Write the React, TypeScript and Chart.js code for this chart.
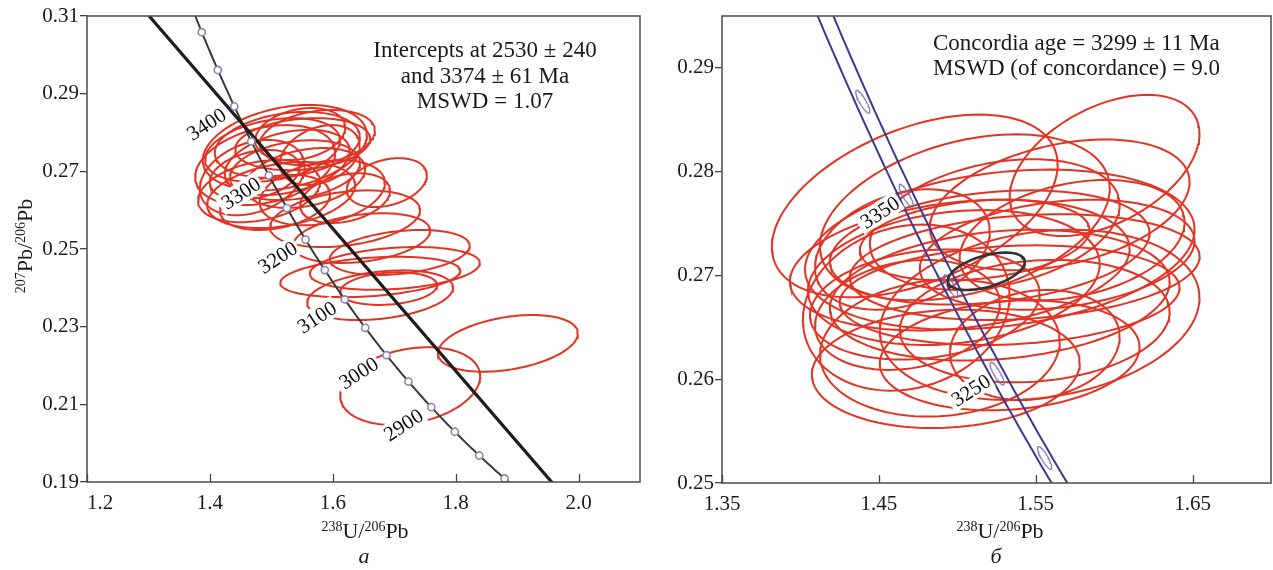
import React, { useEffect, useRef } from 'react';
import { Chart, registerables } from 'chart.js';

Chart.register(...registerables);

const FONT = '"Liberation Serif", "Times New Roman", serif';

// U–Pb decay constants (per year) and present-day 238U/235U
const LAMBDA_238 = 1.55125e-10;
const LAMBDA_235 = 9.8485e-10;
const U238_U235 = 137.88;

// ---------------- panel а ----------------
const aXTicks = [1.2, 1.4, 1.6, 1.8, 2.0];
const aYTicks = [0.19, 0.21, 0.23, 0.25, 0.27, 0.29, 0.31];
const aCurveAgeRange = [2700, 3600];
const aDotAges = [2750, 2800, 2850, 2900, 2950, 3000, 3050, 3100, 3150, 3200, 3250, 3300, 3350, 3400, 3450, 3500];
const aLabelAges = [2900, 3000, 3100, 3200, 3300, 3400];
const aInterceptAges = [2530, 3374];
const aEllipseX = [1.522, 1.490, 1.526, 1.526, 1.469, 1.551, 1.555, 1.473, 1.547, 1.516, 1.583, 1.688, 1.620, 1.620, 1.647, 1.709, 1.701, 1.661, 1.677, 1.691, 1.885, 1.726, 1.506, 1.579, 1.502, 1.5385, 1.480, 1.575];
const aEllipseY = [0.2761, 0.2716, 0.2768, 0.2723, 0.2684, 0.2770, 0.2683, 0.2691, 0.2796, 0.2639, 0.2645, 0.2671, 0.2631, 0.2578, 0.2528, 0.2491, 0.2450, 0.2428, 0.2381, 0.2398, 0.2257, 0.2147, 0.2620, 0.2742, 0.2755, 0.2703, 0.2649, 0.2787];
const aEllipseSX = [0.1335, 0.1139, 0.118, 0.1017, 0.0854, 0.1099, 0.0977, 0.0732, 0.0732, 0.1204, 0.1017, 0.0651, 0.0732, 0.1221, 0.1115, 0.1139, 0.1383, 0.1465, 0.1188, 0.0789, 0.1139, 0.1139, 0.0895, 0.0651, 0.1099, 0.1058, 0.0993, 0.0936];
const aEllipseSY = [0.0110, 0.0103, 0.0085, 0.0084, 0.0097, 0.0067, 0.0077, 0.0064, 0.0067, 0.0085, 0.0084, 0.0063, 0.0064, 0.0073, 0.0064, 0.0058, 0.0055, 0.0052, 0.0064, 0.0042, 0.0073, 0.0100, 0.0071, 0.0077, 0.0082, 0.0077, 0.0080, 0.0071];
const aEllipseRho = [0.3, 0.3, 0.25, 0.35, 0.3, 0.2, 0.3, 0.3, 0.25, 0.3, 0.3, 0.3, 0.3, 0.3, 0.3, 0.3, 0.25, 0.3, 0.3, 0.2, 0.35, 0.25, 0.3, 0.3, 0.3, 0.25, 0.3, 0.25];
const aAnnotation = ['Intercepts at 2530 ± 240', 'and 3374 ± 61 Ma', 'MSWD = 1.07'];

// ---------------- panel б ----------------
const bXTicks = [1.35, 1.45, 1.55, 1.65];
const bYTicks = [0.25, 0.26, 0.27, 0.28, 0.29];
const bCurveAgeRange = [3150, 3500];
const bBandHalfWidth = 0.005;
const bMarkAges = [3200, 3250, 3300, 3350, 3400];
const bLabelAges = [3250, 3350];
const bEllipseX = [1.4729, 1.5939, 1.5048, 1.5271, 1.5207, 1.4978, 1.5430, 1.4675, 1.5525, 1.4927, 1.5334, 1.5239, 1.5653, 1.4793, 1.5494, 1.4889, 1.5111, 1.5732, 1.4650, 1.5494, 1.5016, 1.5271, 1.5334, 1.4682, 1.5637];
const bEllipseY = [0.2767, 0.2806, 0.2756, 0.2725, 0.2727, 0.2698, 0.2708, 0.2669, 0.2662, 0.2610, 0.2681, 0.2749, 0.2768, 0.2672, 0.2656, 0.2630, 0.2734, 0.2734, 0.2725, 0.2633, 0.2710, 0.2681, 0.2623, 0.2662, 0.2720];
const bEllipseSX = [0.0911, 0.0605, 0.0924, 0.1242, 0.1019, 0.0930, 0.1115, 0.0659, 0.1019, 0.0854, 0.1083, 0.0796, 0.0828, 0.0732, 0.0860, 0.0764, 0.0732, 0.0717, 0.0557, 0.0541, 0.1083, 0.1083, 0.0828, 0.0589, 0.0876];
const bEllipseSY = [0.0088, 0.0068, 0.0080, 0.0077, 0.0055, 0.0065, 0.0051, 0.0080, 0.0082, 0.0057, 0.0048, 0.0063, 0.0063, 0.0053, 0.0059, 0.0066, 0.0039, 0.0058, 0.0058, 0.0053, 0.0063, 0.0063, 0.0053, 0.0053, 0.0053];
const bEllipseRho = [0.45, 0.45, 0.35, 0.25, 0.25, 0.2, 0.2, 0.15, 0.2, 0.1, 0.15, 0.3, 0.35, 0.2, 0.15, 0.1, 0.25, 0.3, 0.3, 0.15, 0.25, 0.2, 0.15, 0.2, 0.25];
const bMeanEllipse = { x: 1.5185, y: 0.2704, sx: 0.0245, sy: 0.0018, rho: 0.5 };
const bAnnotation = ['Concordia age = 3299 ± 11 Ma', 'MSWD (of concordance) = 9.0'];

// ---------------- helpers ----------------
function concordia(ageMa: number) {
  const t = ageMa * 1e6;
  const e238 = Math.exp(LAMBDA_238 * t) - 1;
  const e235 = Math.exp(LAMBDA_235 * t) - 1;
  return { x: 1 / e238, y: e235 / e238 / U238_U235 };
}

function concordiaCurve(range: number[], dx = 0) {
  const pts: { x: number; y: number }[] = [];
  for (let t = range[0]; t <= range[1]; t += 5) {
    const p = concordia(t);
    pts.push({ x: p.x + dx, y: p.y });
  }
  return pts;
}

function ellipsePoints(cx: number, cy: number, sx: number, sy: number, rho: number, n = 120) {
  const pts: { x: number; y: number }[] = [];
  const k = Math.sqrt(1 - rho * rho);
  for (let i = 0; i <= n; i++) {
    const a = (i / n) * 2 * Math.PI;
    pts.push({ x: cx + sx * Math.cos(a), y: cy + sy * (rho * Math.cos(a) + k * Math.sin(a)) });
  }
  return pts;
}

const RED = 'rgb(226, 52, 36)';

function lineDs(data: any[], color: string, width: number, order: number) {
  return {
    data,
    showLine: true,
    borderColor: color,
    borderWidth: width,
    pointRadius: 0,
    fill: false,
    tension: 0,
    order,
  };
}

type Decor = {
  xTicks: number[];
  labelAges: number[];
  labelOffset: number;
  labelAngle: number;
  annotation: string[];
  annX: number;
  annY: number;
  annAlign: CanvasTextAlign;
  annGap: number;
};

function makeDecorPlugin(d: Decor) {
  return {
    id: 'decor',
    afterDatasetsDraw(chart: any) {
      const { ctx, chartArea: a, scales } = chart;
      const xs = scales.x;
      const ys = scales.y;
      ctx.save();
      // age labels on the concordia
      ctx.font = `21px ${FONT}`;
      d.labelAges.forEach((age) => {
        const p = concordia(age);
        const px = xs.getPixelForValue(p.x);
        const py = ys.getPixelForValue(p.y);
        const text = String(age);
        ctx.save();
        ctx.translate(px, py);
        ctx.rotate((d.labelAngle * Math.PI) / 180);
        const w = ctx.measureText(text).width;
        ctx.fillStyle = '#ffffff';
        ctx.fillRect(-d.labelOffset - w - 4, -11, w + 6, 21);
        ctx.fillStyle = '#111111';
        ctx.textAlign = 'right';
        ctx.textBaseline = 'middle';
        ctx.fillText(text, -d.labelOffset, 1);
        ctx.restore();
      });
      // annotation text
      ctx.font = `23px ${FONT}`;
      ctx.fillStyle = '#1a1a1a';
      ctx.textAlign = d.annAlign;
      ctx.textBaseline = 'alphabetic';
      d.annotation.forEach((line, i) => ctx.fillText(line, d.annX, d.annY + i * d.annGap));
      // frame
      ctx.strokeStyle = '#555555';
      ctx.lineWidth = 1.6;
      ctx.strokeRect(a.left, a.top, a.right - a.left, a.bottom - a.top);
      // inward ticks on the x axis
      ctx.strokeStyle = '#444444';
      ctx.lineWidth = 1.3;
      d.xTicks.forEach((v) => {
        const px = Math.round(xs.getPixelForValue(v)) + 0.5;
        ctx.beginPath();
        ctx.moveTo(px, a.bottom);
        ctx.lineTo(px, a.bottom - 8);
        ctx.stroke();
      });
      ctx.restore();
    },
  };
}

function axisOptions(
  min: number,
  max: number,
  ticks: number[],
  digits: number,
  isX: boolean,
  size: number,
  firstLabelShift = ''
) {
  return {
    type: 'linear',
    min,
    max,
    afterBuildTicks: (s: any) => {
      s.ticks = ticks.map((v) => ({ value: v }));
    },
    afterFit: (s: any) => {
      if (isX) s.height = size;
      else s.width = size;
    },
    grid: isX
      ? { display: false, drawOnChartArea: false, drawTicks: false }
      : { display: true, drawOnChartArea: false, drawTicks: true, tickLength: 7, color: '#444444', lineWidth: 1.3 },
    border: { display: false },
    ticks: {
      autoSkip: false,
      maxRotation: 0,
      padding: isX ? 9 : 1,
      color: '#1a1a1a',
      font: { family: FONT, size: 21 },
      callback: (v: number) => {
        const s = Number(v).toFixed(digits);
        return firstLabelShift && v === ticks[0] ? firstLabelShift + s : s;
      },
    },
  };
}

function buildLeft(canvas: HTMLCanvasElement) {
  const datasets: any[] = [];
  aEllipseX.forEach((cx, i) => {
    datasets.push(lineDs(ellipsePoints(cx, aEllipseY[i], aEllipseSX[i], aEllipseSY[i], aEllipseRho[i]), RED, 2, 10));
  });
  datasets.push(lineDs(concordiaCurve(aCurveAgeRange), '#3a3a3a', 2, 4));
  const lo = concordia(aInterceptAges[0]);
  const hi = concordia(aInterceptAges[1]);
  const slope = (hi.y - lo.y) / (hi.x - lo.x);
  const discordia = [1.0, 2.3].map((x) => ({ x, y: lo.y + slope * (x - lo.x) }));
  datasets.push(lineDs(discordia, '#1c1c1c', 3.2, 3));
  datasets.push({
    data: aDotAges.map((t) => concordia(t)),
    showLine: false,
    pointRadius: 3.6,
    pointBackgroundColor: '#ffffff',
    pointBorderColor: '#8c86b2',
    pointBorderWidth: 1.6,
    order: 1,
  });
  return new Chart(canvas, {
    type: 'scatter',
    data: { datasets },
    options: {
      responsive: false,
      animation: false,
      devicePixelRatio: 1,
      events: [],
      layout: { padding: { top: 16, right: 20, left: 0, bottom: 0 } },
      plugins: { legend: { display: false }, tooltip: { enabled: false } },
      scales: {
        x: axisOptions(1.2, 2.1, aXTicks, 1, true, 88, '     '),
        y: axisOptions(0.19, 0.31, aYTicks, 2, false, 87),
      },
    } as any,
    plugins: [
      makeDecorPlugin({
        xTicks: aXTicks,
        labelAges: aLabelAges,
        labelOffset: 12,
        labelAngle: -33,
        annotation: aAnnotation,
        annX: 485,
        annY: 57,
        annAlign: 'center',
        annGap: 25.7,
      }),
    ],
  } as any);
}

function buildRight(canvas: HTMLCanvasElement) {
  const datasets: any[] = [];
  bEllipseX.forEach((cx, i) => {
    datasets.push(lineDs(ellipsePoints(cx, bEllipseY[i], bEllipseSX[i], bEllipseSY[i], bEllipseRho[i]), RED, 2, 10));
  });
  const BLUE = '#3a3a8e';
  datasets.push(lineDs(concordiaCurve(bCurveAgeRange, -bBandHalfWidth), BLUE, 2, 4));
  datasets.push(lineDs(concordiaCurve(bCurveAgeRange, bBandHalfWidth), BLUE, 2, 4));
  bMarkAges.forEach((t) => {
    const p = concordia(t);
    datasets.push(lineDs(ellipsePoints(p.x, p.y, bBandHalfWidth * 0.9, 0.0011, -0.85, 60), 'rgba(110,110,175,0.85)', 1.3, 5));
  });
  const m = bMeanEllipse;
  datasets.push(lineDs(ellipsePoints(m.x, m.y, m.sx, m.sy, m.rho), '#333333', 2.6, 2));
  return new Chart(canvas, {
    type: 'scatter',
    data: { datasets },
    options: {
      responsive: false,
      animation: false,
      devicePixelRatio: 1,
      events: [],
      layout: { padding: { top: 16, right: 2, left: 0, bottom: 0 } },
      plugins: { legend: { display: false }, tooltip: { enabled: false } },
      scales: {
        x: axisOptions(1.35, 1.7, bXTicks, 2, true, 87),
        y: axisOptions(0.25, 0.295, bYTicks, 2, false, 62),
      },
    } as any,
    plugins: [
      makeDecorPlugin({
        xTicks: bXTicks,
        labelAges: bLabelAges,
        labelOffset: 10,
        labelAngle: -33,
        annotation: bAnnotation,
        annX: 273,
        annY: 50,
        annAlign: 'left',
        annGap: 25,
      }),
    ],
  } as any);
}

const Sup = ({ t }: { t: string }) => (
  <span style={{ fontSize: 14, position: 'relative', top: -7 }}>{t}</span>
);

export default function App() {
  const leftRef = useRef<HTMLCanvasElement>(null);
  const rightRef = useRef<HTMLCanvasElement>(null);

  useEffect(() => {
    const c1 = buildLeft(leftRef.current!);
    const c2 = buildRight(rightRef.current!);
    return () => {
      c1.destroy();
      c2.destroy();
    };
  }, []);

  const titleStyle: React.CSSProperties = {
    position: 'absolute',
    width: 200,
    height: 22,
    textAlign: 'center',
    fontSize: 22,
    lineHeight: '22px',
    color: '#1a1a1a',
    whiteSpace: 'nowrap',
  };

  return (
    <div
      style={{
        position: 'absolute',
        left: 0,
        top: 0,
        width: 1273,
        height: 570,
        background: '#ffffff',
        fontFamily: FONT,
        overflow: 'hidden',
      }}
    >
      <canvas ref={leftRef} width={660} height={570} style={{ position: 'absolute', left: 0, top: 0 }} />
      <canvas ref={rightRef} width={613} height={570} style={{ position: 'absolute', left: 660, top: 0 }} />
      <div style={{ ...titleStyle, left: 265, top: 520 }}>
        <Sup t="238" />U/<Sup t="206" />Pb
      </div>
      <div style={{ ...titleStyle, left: 900, top: 520 }}>
        <Sup t="238" />U/<Sup t="206" />Pb
      </div>
      <div style={{ ...titleStyle, left: 264, top: 545, fontStyle: 'italic' }}>а</div>
      <div style={{ ...titleStyle, left: 896, top: 545, fontStyle: 'italic' }}>б</div>
      <div style={{ ...titleStyle, left: -75, top: 235, transform: 'rotate(-90deg)' }}>
        <Sup t="207" />Pb/<Sup t="206" />Pb
      </div>
    </div>
  );
}
